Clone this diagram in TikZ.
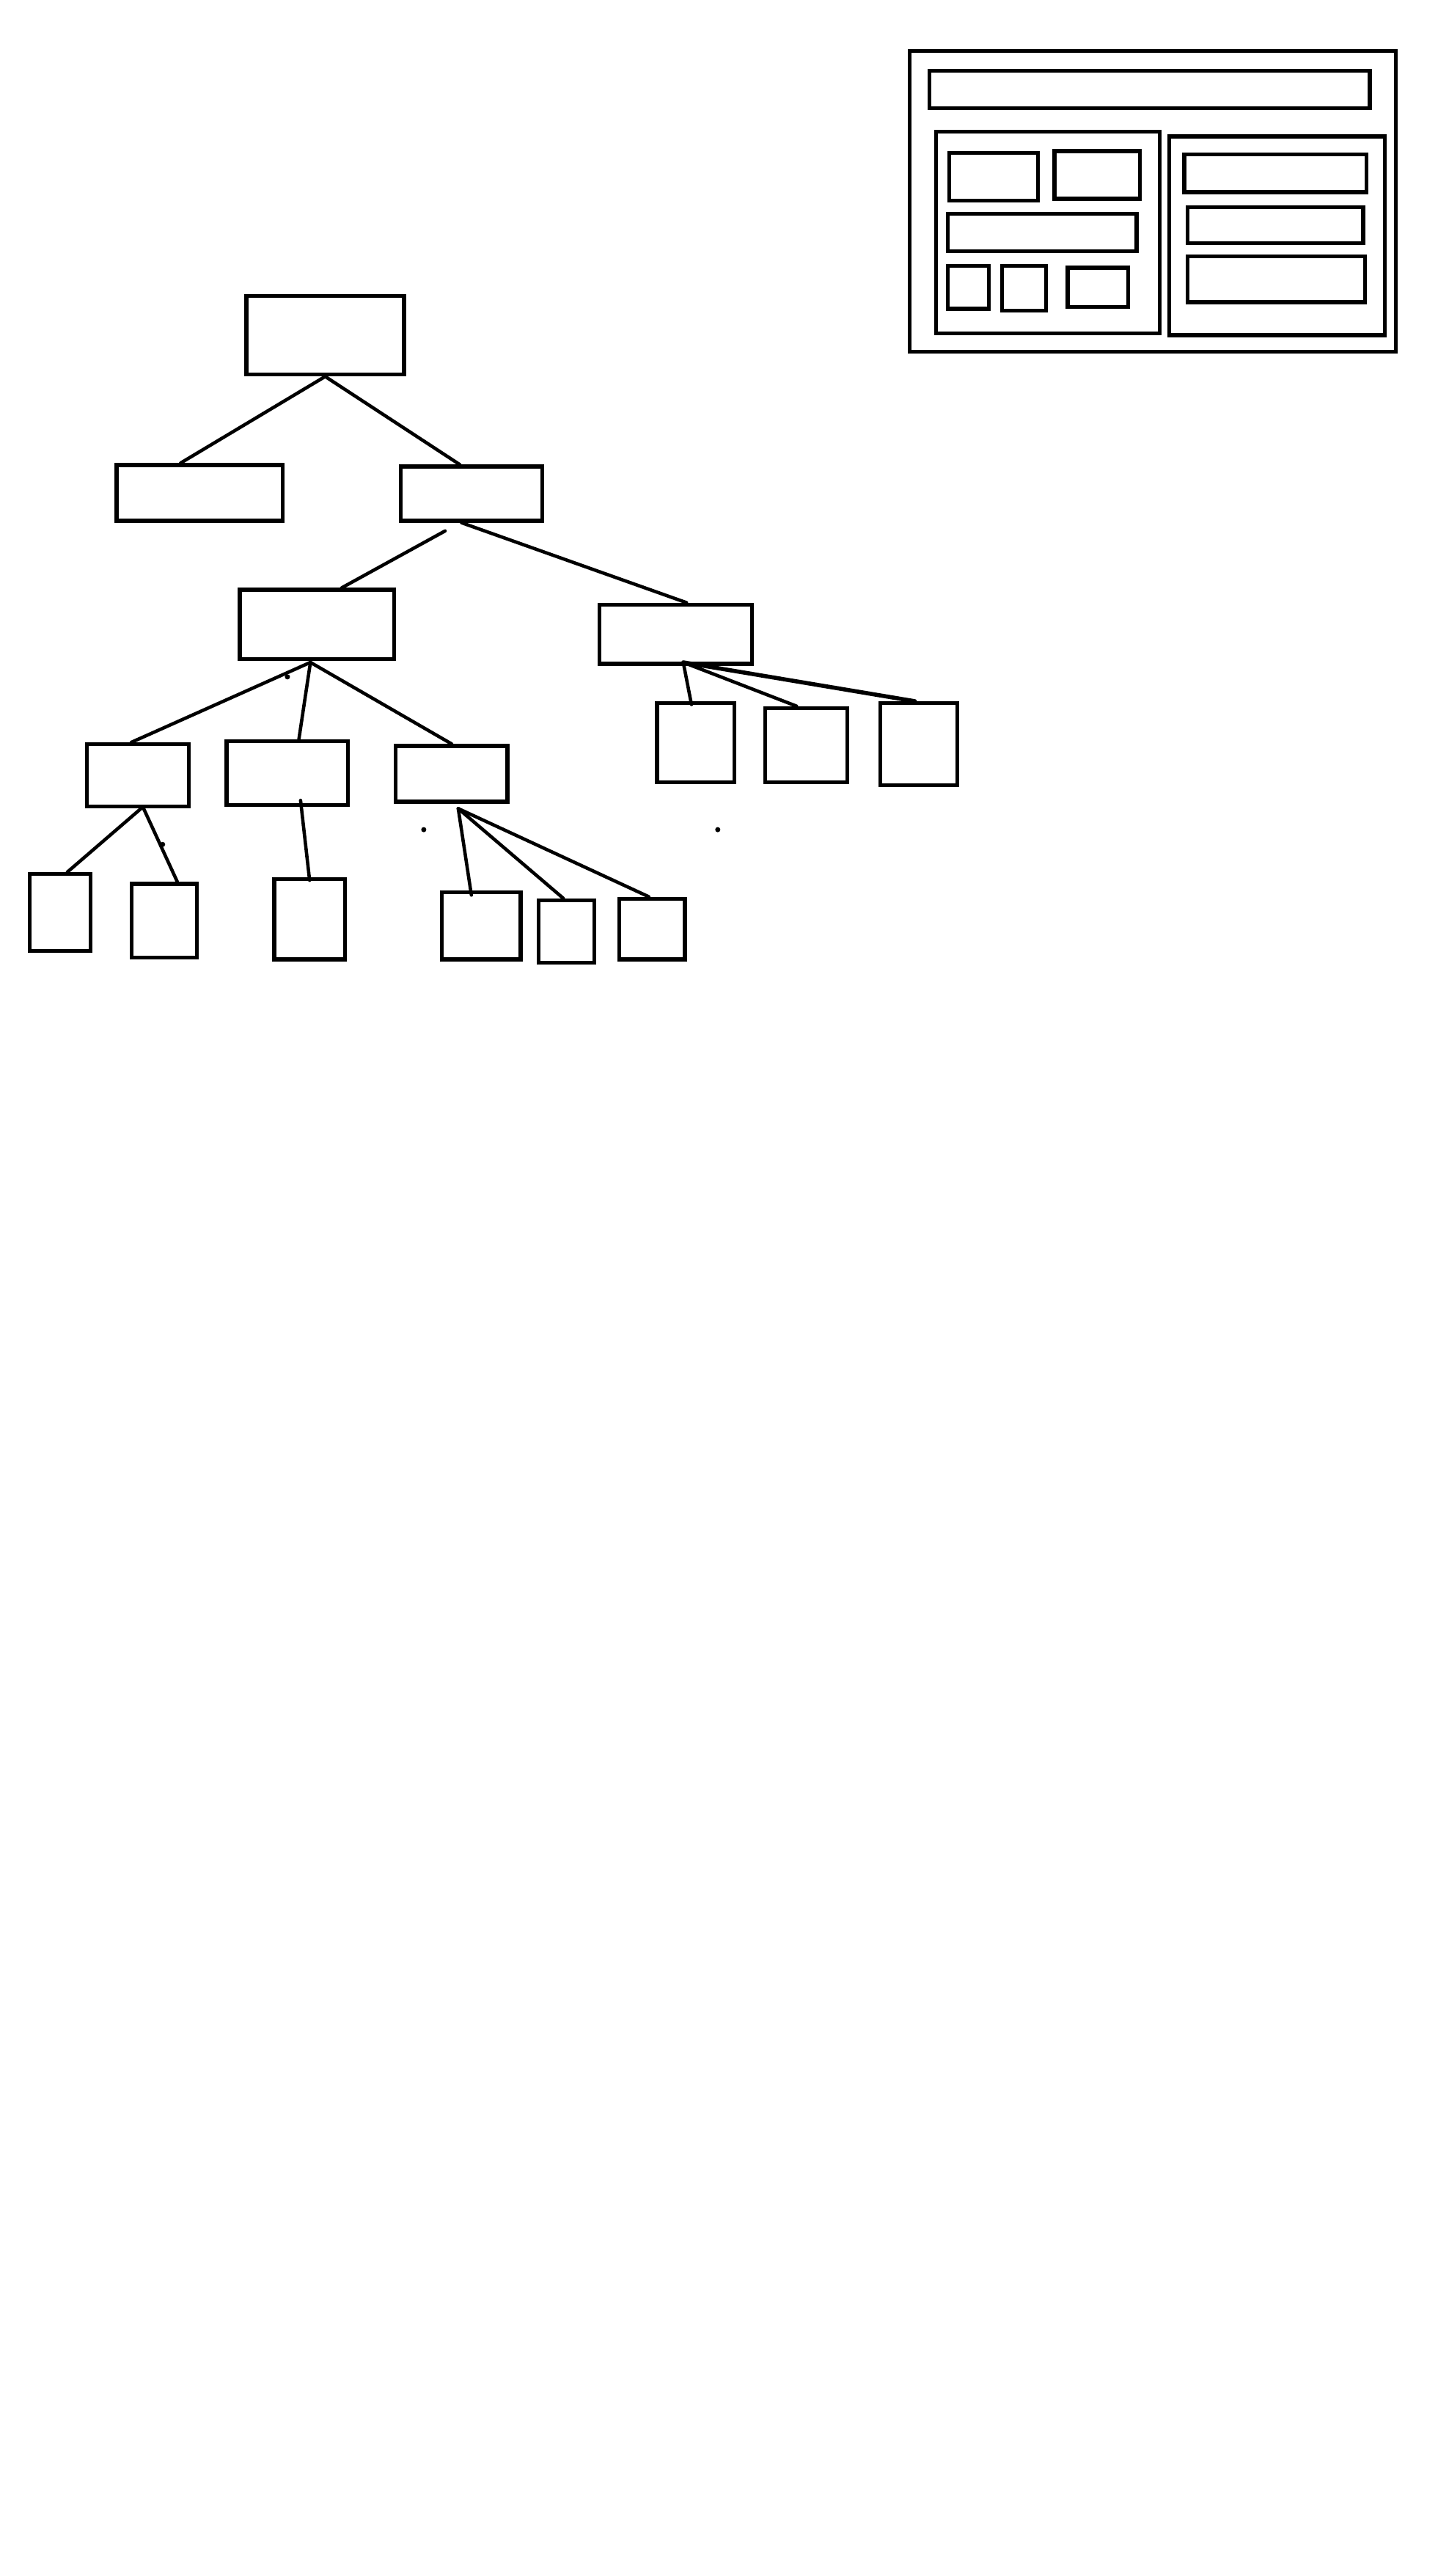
\documentclass[tikz,border=0pt]{standalone}
\usetikzlibrary{fit,calc}

\begin{document}
\begin{tikzpicture}[x=0.022404cm, y=-0.022404cm,
    box/.style={draw, line width=1.5pt, inner sep=0pt, fit={#1}},
    link/.style={line width=1.3pt, line cap=round},
    speck/.style={fill, inner sep=0pt, minimum size=2pt, circle}]
    \fill[white] (0,0) rectangle (882,1568);

    % layout panel, top right
    \node[box={(554,31) (850,214)}] (panel) {};
    \node[box={(566,43) (834,66)}] (header) {};
    \node[box={(570,80) (706,203)}] (leftpane) {};
    \node[box={(578,93) (632,122)}] (lpA) {};
    \node[box={(642,92) (694,121)}] (lpB) {};
    \node[box={(577,130) (692,153)}] (lpC) {};
    \node[box={(577,162) (602,188)}] (lpD) {};
    \node[box={(610,162) (637,189)}] (lpE) {};
    \node[box={(650,163) (687,187)}] (lpF) {};
    \node[box={(712,83) (843,204)}] (rightpane) {};
    \node[box={(721,94) (832,117)}] (rpA) {};
    \node[box={(723,126) (830,148)}] (rpB) {};
    \node[box={(723,156) (831,184)}] (rpC) {};

    % tree
    \node[box={(150,180) (246,228)}] (root) {};
    \node[box={(71,283) (172,317)}] (left) {};
    \node[box={(244,284) (330,317)}] (right) {};
    \node[box={(146,359) (240,401)}] (midA) {};
    \node[box={(365,368) (458,404)}] (midB) {};
    \node[box={(400,428) (447,476)}] (leafB1) {};
    \node[box={(466,431) (516,476)}] (leafB2) {};
    \node[box={(536,428) (583,478)}] (leafB3) {};
    \node[box={(53,453) (115,491)}] (lowA) {};
    \node[box={(138,451) (212,490)}] (lowB) {};
    \node[box={(241,454) (309,488)}] (lowC) {};
    \node[box={(18,532) (55,579)}] (leafA1) {};
    \node[box={(80,538) (120,583)}] (leafA2) {};
    \node[box={(167,535) (210,584)}] (leafB) {};
    \node[box={(269,543) (317,584)}] (leafC1) {};
    \node[box={(328,548) (362,586)}] (leafC2) {};
    \node[box={(377,547) (417,584)}] (leafC3) {};

    \draw[link] (root.south) -- ($(left.north)+(-11.5,0)$);
    \draw[link] (root.south) -- ($(right.north)+(-7,0)$);
    \draw[link] ($(right.south)+(-16,5)$) -- ($(midA.north)+(15,0)$);
    \draw[link] ($(right.south)+(-6,0)$) -- ($(midB.north)+(6.5,0)$);

    \draw[link] ($(midA.south)+(-4,1)$) -- ($(lowA.north)+(-4,0)$);
    \draw[link] ($(midA.south)+(-4,1)$) -- ($(lowB.north)+(7,0)$);
    \draw[link] ($(midA.south)+(-4,1)$) -- (lowC.north);

    \draw[link] ($(midB.south)+(4.5,-2)$) -- ($(leafB1.north)+(-2.5,2)$);
    \draw[link] ($(midB.south)+(4.5,-2)$) -- ($(leafB2.north)+(-6,0)$);
    \draw[link, line width=1.6pt] ($(midB.south)+(4.5,-2)$) -- ($(leafB3.north)+(-2.5,0)$);

    \draw[link] ($(lowA.south)+(3,-1)$) -- ($(leafA1.north)+(4.5,0)$);
    \draw[link] ($(lowA.south)+(3,-1)$) -- ($(leafA2.north)+(8,0)$);
    \draw[link] ($(lowB.south)+(8,-4)$) -- ($(leafB.north)+(0,2)$);
    \draw[link] ($(lowC.south)+(4,3)$) -- ($(leafC1.north)+(-6,3)$);
    \draw[link] ($(lowC.south)+(4,3)$) -- ($(leafC2.north)+(-2,0)$);
    \draw[link] ($(lowC.south)+(4,3)$) -- ($(leafC3.north)+(-2,0)$);

    % stray pen marks
    \node[speck] (speck1) at (175,412) {};
    \node[speck] (speck2) at (99,514) {};
    \node[speck] (speck3) at (258,505) {};
    \node[speck] (speck4) at (437,505) {};
\end{tikzpicture}
\end{document}
